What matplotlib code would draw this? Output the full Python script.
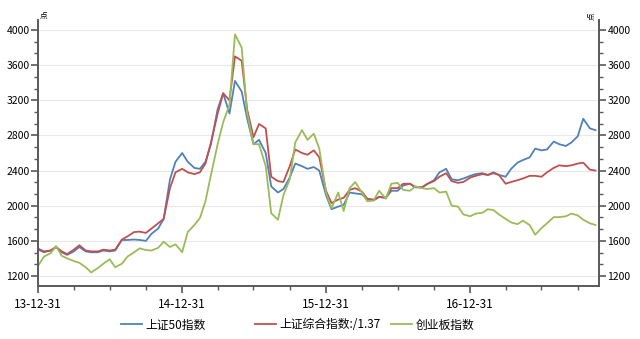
import pandas as pd
import matplotlib.pyplot as plt
import matplotlib.dates as mdates
from matplotlib.ticker import MultipleLocator, AutoMinorLocator, FixedLocator
from matplotlib.lines import Line2D

plt.rcParams['font.family'] = ['Noto Sans CJK SC', 'DejaVu Sans']

# semi-monthly closes, 2014-01 .. 2017-11
dates = pd.date_range('2014-01-01', periods=94, freq='SMS')

sz50 = [1500, 1470, 1490, 1530, 1470, 1440, 1480, 1530, 1480, 1470, 1470, 1490,
        1480, 1490, 1610, 1610, 1615, 1610, 1600, 1680, 1740, 1850, 2300, 2500,
        2600, 2500, 2430, 2420, 2500, 2700, 3100, 3280, 3050, 3420, 3300, 2990,
        2700, 2750, 2600, 2220, 2150, 2190, 2320, 2480, 2450, 2420, 2440, 2400,
        2120, 1960, 1990, 2010, 2150, 2140, 2130, 2070, 2060, 2100, 2090, 2170,
        2170, 2230, 2250, 2210, 2210, 2250, 2290, 2380, 2420, 2300, 2290, 2310,
        2340, 2360, 2370, 2350, 2380, 2350, 2330, 2420, 2490, 2520, 2550, 2650,
        2630, 2640, 2730, 2700, 2680, 2720, 2790, 2990, 2880, 2860]

szzz = [1510, 1480, 1490, 1530, 1480, 1450, 1500, 1550, 1490, 1480, 1480, 1500,
        1490, 1500, 1615, 1650, 1700, 1705, 1690, 1740, 1800, 1850, 2200, 2380,
        2420, 2380, 2360, 2380, 2480, 2720, 3050, 3280, 3200, 3700, 3650, 3090,
        2780, 2930, 2880, 2330, 2280, 2270, 2450, 2640, 2600, 2580, 2630, 2550,
        2170, 2030, 2070, 2090, 2180, 2200, 2160, 2080, 2070, 2100, 2090, 2200,
        2200, 2250, 2250, 2210, 2210, 2250, 2280, 2330, 2370, 2280, 2260, 2270,
        2320, 2340, 2360, 2350, 2370, 2350, 2250, 2270, 2290, 2310, 2340, 2340,
        2330, 2380, 2430, 2460, 2450, 2460, 2480, 2490, 2410, 2400]

cyb = [1320, 1420, 1460, 1540, 1430, 1400, 1370, 1350, 1300, 1240, 1290, 1340,
       1390, 1300, 1340, 1420, 1470, 1515, 1495, 1490, 1520, 1590, 1530, 1560,
       1470, 1700, 1780, 1860, 2050, 2350, 2700, 2950, 3150, 3950, 3800, 3050,
       2700, 2700, 2450, 1915, 1840, 2120, 2300, 2720, 2860, 2750, 2820, 2650,
       2150, 1970, 2150, 1940, 2200, 2270, 2150, 2050, 2060, 2170, 2080, 2250,
       2260, 2180, 2170, 2220, 2200, 2190, 2200, 2150, 2160, 2000, 1990, 1900,
       1880, 1910, 1920, 1960, 1950, 1900, 1850, 1810, 1790, 1830, 1780, 1670,
       1745, 1800, 1870, 1870, 1880, 1910, 1890, 1840, 1800, 1780]

series_names = ['上证50指数', '上证综合指数:/1.37', '创业板指数']
colors = ['#4F81BD', '#C0504D', '#9BBB59']
xtick_labels = ['13-12-31', '14-12-31', '15-12-31', '16-12-31']

fig = plt.figure(figsize=(6.4, 3.39), dpi=100)
ax = fig.add_axes([38 / 640, 1 - 286 / 339, (599 - 38) / 640, (286 - 20) / 339])

for vals, c in zip([sz50, szzz, cyb], colors):
    ax.plot(dates, vals, color=c, lw=1.3)

ax.set_xlim(pd.Timestamp('2013-12-31'), pd.Timestamp('2017-11-24'))
ax.set_ylim(1086, 4114)

ax.yaxis.set_major_locator(MultipleLocator(400))
ax.yaxis.set_minor_locator(AutoMinorLocator(3))
ax.grid(axis='y', color='#e8e8e8', lw=0.8)
ax.set_axisbelow(True)

major = [mdates.date2num(pd.Timestamp('20' + s)) for s in xtick_labels]
ax.xaxis.set_major_locator(FixedLocator(major))
ax.set_xticklabels(xtick_labels)
ax.xaxis.set_minor_locator(mdates.MonthLocator(bymonth=[4, 7, 10], bymonthday=1))

axis_col = '#595959'
for side in ['left', 'right', 'bottom']:
    ax.spines[side].set_color(axis_col)
    ax.spines[side].set_linewidth(1.4)
ax.spines['top'].set_visible(False)

ax.tick_params(axis='both', which='major', length=5, width=1.2, color=axis_col, labelsize=7.5)
ax.tick_params(axis='both', which='minor', length=3, width=1.0, color=axis_col)
ax.tick_params(axis='x', labelsize=8.5, pad=4)
ax.tick_params(axis='y', pad=1)

ax2 = ax.twinx()
ax2.set_ylim(ax.get_ylim())
ax2.yaxis.set_major_locator(MultipleLocator(400))
ax2.yaxis.set_minor_locator(AutoMinorLocator(3))
for side in ['left', 'right', 'bottom', 'top']:
    ax2.spines[side].set_visible(False)
ax2.tick_params(axis='y', which='major', length=5, width=1.2, color=axis_col, labelsize=7.5, pad=1)
ax2.tick_params(axis='y', which='minor', length=3, width=1.0, color=axis_col)

# unit labels
fig.text(40 / 640, 1 - 20 / 339, '点', fontsize=5.5, ha='left', va='bottom')
fig.text(596 / 640, 1 - 20 / 339, '点', fontsize=5.5, ha='right', va='bottom', rotation=90)

# legend, one entry per block
legend_x = [121, 255, 391]
for name, c, x in zip(series_names, colors, legend_x):
    h = Line2D([], [], color=c, lw=1.3)
    fig.legend([h], [name], loc='center left', bbox_to_anchor=(x / 640, 1 - 325 / 339),
               frameon=False, fontsize=8.5, handlelength=1.8, handletextpad=0.3,
               borderaxespad=0, borderpad=0)

fig.savefig('out.png', dpi=100)
